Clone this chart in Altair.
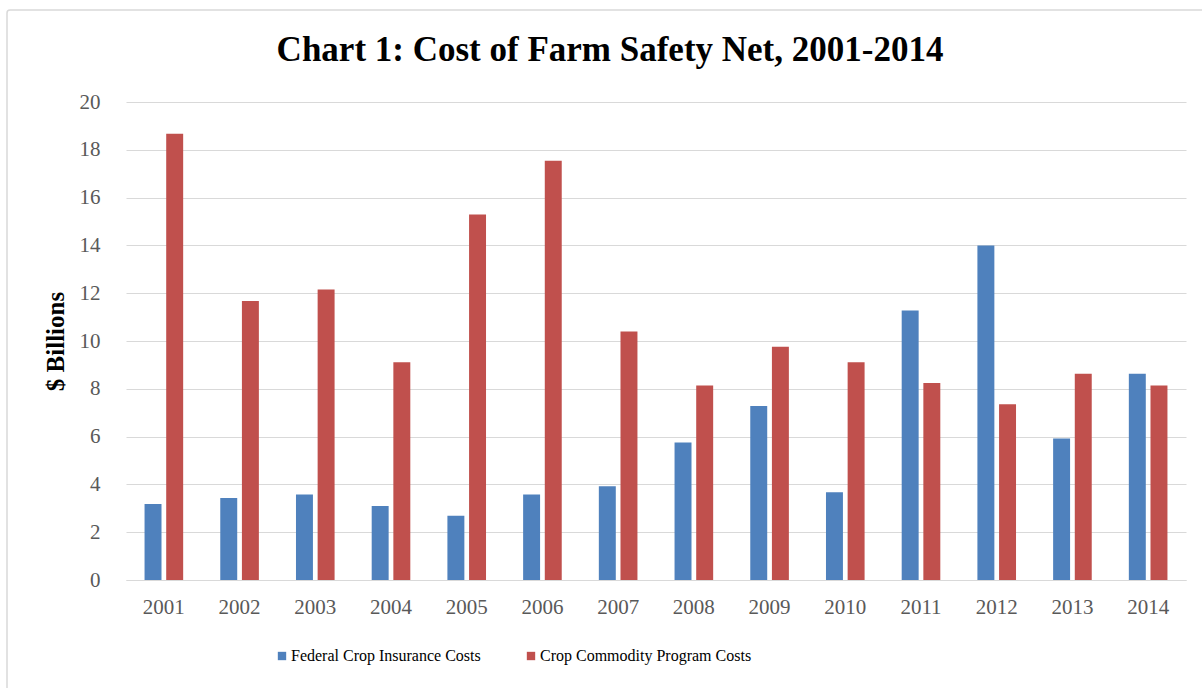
import altair as alt
import pandas as pd

years = ["2001", "2002", "2003", "2004", "2005", "2006", "2007",
         "2008", "2009", "2010", "2011", "2012", "2013", "2014"]
insurance = [3.18, 3.43, 3.58, 3.10, 2.69, 3.58, 3.92,
             5.75, 7.28, 3.67, 11.28, 14.0, 5.92, 8.63]
commodity = [18.67, 11.67, 12.15, 9.11, 15.29, 17.54, 10.40,
             8.14, 9.76, 9.11, 8.24, 7.35, 8.63, 8.14]
series = ["Federal Crop Insurance Costs", "Crop Commodity Program Costs"]
colors = ["#4F81BD", "#C0504D"]
y_ticks = [0, 2, 4, 6, 8, 10, 12, 14, 16, 18, 20]

rows = []
for i, yr in enumerate(years):
    rows.append({"year": yr, "series": series[0], "value": insurance[i]})
    rows.append({"year": yr, "series": series[1], "value": commodity[i]})
df = pd.DataFrame(rows)

W, H = 1060, 478
LEFT, TOP = 126, 102

frame = alt.Chart(alt.Data(values=[{}])).mark_rect(
    fillOpacity=0, stroke="#D9D9D9", strokeWidth=1.5, cornerRadius=3, clip=False
).encode(
    x=alt.value(7 - LEFT), x2=alt.value(1202 - LEFT + 20),
    y=alt.value(10 - TOP), y2=alt.value(688 - TOP + 20)
)

bars = alt.Chart(df).mark_bar().encode(
    x=alt.X("year:N", sort=years,
            scale=alt.Scale(paddingInner=0.49, paddingOuter=0.245),
            axis=alt.Axis(title=None, labelAngle=0, ticks=False,
                          domainColor="#D9D9D9", domainWidth=1.2,
                          labelFont="Liberation Serif", labelFontSize=21,
                          labelColor="#595959", labelPadding=16, grid=False)),
    xOffset=alt.XOffset("series:N", sort=series,
                        scale=alt.Scale(paddingInner=0.217, paddingOuter=0)),
    y=alt.Y("value:Q", scale=alt.Scale(domain=[0, 20], nice=False),
            axis=alt.Axis(title="$ Billions", values=y_ticks, ticks=False,
                          domain=False, gridColor="#D9D9D9", gridWidth=1.2,
                          labelFont="Liberation Serif", labelFontSize=21,
                          labelColor="#595959", labelPadding=26,
                          titleFont="Liberation Serif", titleFontSize=25,
                          titleFontWeight="bold", titleColor="#000000",
                          titleAngle=270, titleBaseline="middle",
                          titleX=55 - LEFT, titleY=H / 2)),
    color=alt.Color("series:N", sort=series,
                    scale=alt.Scale(domain=series, range=colors),
                    legend=alt.Legend(title=None, orient="none",
                                      direction="horizontal",
                                      legendX=274 - LEFT, legendY=546,
                                      symbolType="square", symbolSize=70,
                                      symbolStrokeWidth=0,
                                      labelFont="Liberation Serif",
                                      labelFontSize=16, labelColor="#000000",
                                      labelLimit=500,
                                      labelOffset=1, columnPadding=42))
)

chart = alt.layer(frame, bars).properties(
    width=W, height=H,
    title=alt.Title("Chart 1: Cost of Farm Safety Net, 2001-2014",
                    font="Liberation Serif", fontSize=35, fontWeight="bold",
                    color="#000000", anchor="middle", frame="group",
                    dx=-46, dy=81, offset=22),
    autosize=alt.AutoSizeParams(type="none"),
    padding={"left": LEFT, "top": TOP, "right": 1202 - LEFT - W,
             "bottom": 688 - TOP - H},
    background="#FFFFFF"
).configure_view(stroke=None)

chart.save("out.html", embed_options={"renderer": "svg", "actions": False})
